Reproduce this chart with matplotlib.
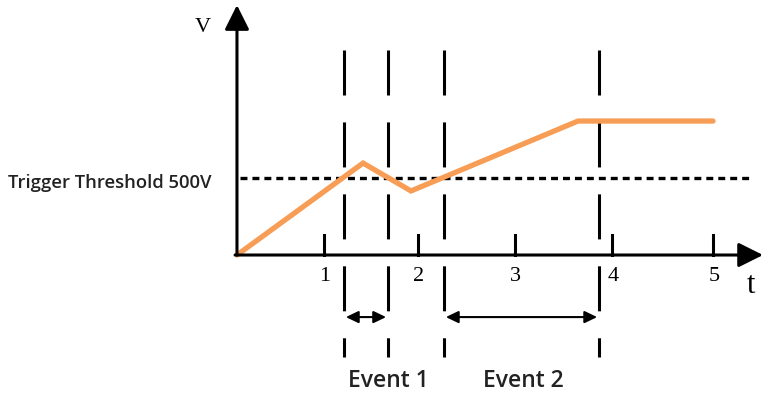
import matplotlib.pyplot as plt

plt.rcParams['lines.scale_dashes'] = False

# orange voltage trace
t_trace = [0.0, 1.324, 1.828, 3.582, 5.0]
v_trace = [0, 597, 416, 870, 870]

# t axis ticks (uneven in the original sketch)
tick_pos = [0.914, 1.90, 2.92, 3.94, 5.0]
tick_labels = ['1', '2', '3', '4', '5']

threshold = 500
event_edges = [1.124, 1.586, 2.174, 3.803]
events = [('Event 1', 1.124, 1.586, 1.586), ('Event 2', 2.174, 3.803, 3.01)]

orange = '#F79D55'
serif = ['Liberation Serif', 'DejaVu Serif']
sans = ['Open Sans', 'DejaVu Sans']

fig = plt.figure(figsize=(7.63, 3.97), dpi=100)
ax = fig.add_axes([0, 0, 1, 1])
ax.set_xlim(-2.489, 5.525)
ax.set_ylim(-922, 1656)
ax.axis('off')

# axes with arrow heads
arrow = dict(arrowstyle='-|>,head_length=0.75,head_width=0.375', color='black',
             lw=2.2, mutation_scale=20, shrinkA=0, shrinkB=0)
ax.annotate('', xy=(0, 1623), xytext=(0, 0), arrowprops=arrow)
ax.annotate('', xy=(5.525, 0), xytext=(-0.02, 0), arrowprops=arrow)

# ticks
for p, lab in zip(tick_pos, tick_labels):
    ax.plot([p, p], [0, 130], color='black', lw=2.2)
    ax.text(p + 0.01, -140, lab, family=serif, fontsize=16, ha='center', va='center')

ax.text(-0.36, 1480, 'V', family=serif, fontsize=16, ha='center', va='center')
ax.text(5.40, -195, 't', family=serif, fontsize=22, ha='center', va='center')

# threshold
ax.plot([0.03, 5.40], [threshold, threshold], color='black', lw=2.4,
        dashes=(5, 3.6), dash_capstyle='butt')
ax.text(-2.40, 470, 'Trigger Threshold 500V', family=sans, fontsize=13.3,
        weight='semibold', ha='left', va='center', color='#222222')

# event boundaries
for e in event_edges:
    ax.plot([e, e], [1331, -662], color='black', lw=2.2, dashes=(32.4, 19.4),
            dash_capstyle='butt')

# trace
ax.plot(t_trace, v_trace, color=orange, lw=3.8, solid_capstyle='round',
        solid_joinstyle='miter')

# event spans
for name, a, b, cx in events:
    ax.annotate('', xy=(b - 0.02, -403), xytext=(a + 0.02, -403),
                arrowprops=dict(arrowstyle='<|-|>,head_length=0.75,head_width=0.36',
                                color='black', lw=1.5, mutation_scale=10,
                                shrinkA=0, shrinkB=0))
    ax.text(cx, -820, name, family=sans, fontsize=16.5, weight='semibold',
            ha='center', va='center', color='#222222')

fig.savefig('out.png', dpi=100)
